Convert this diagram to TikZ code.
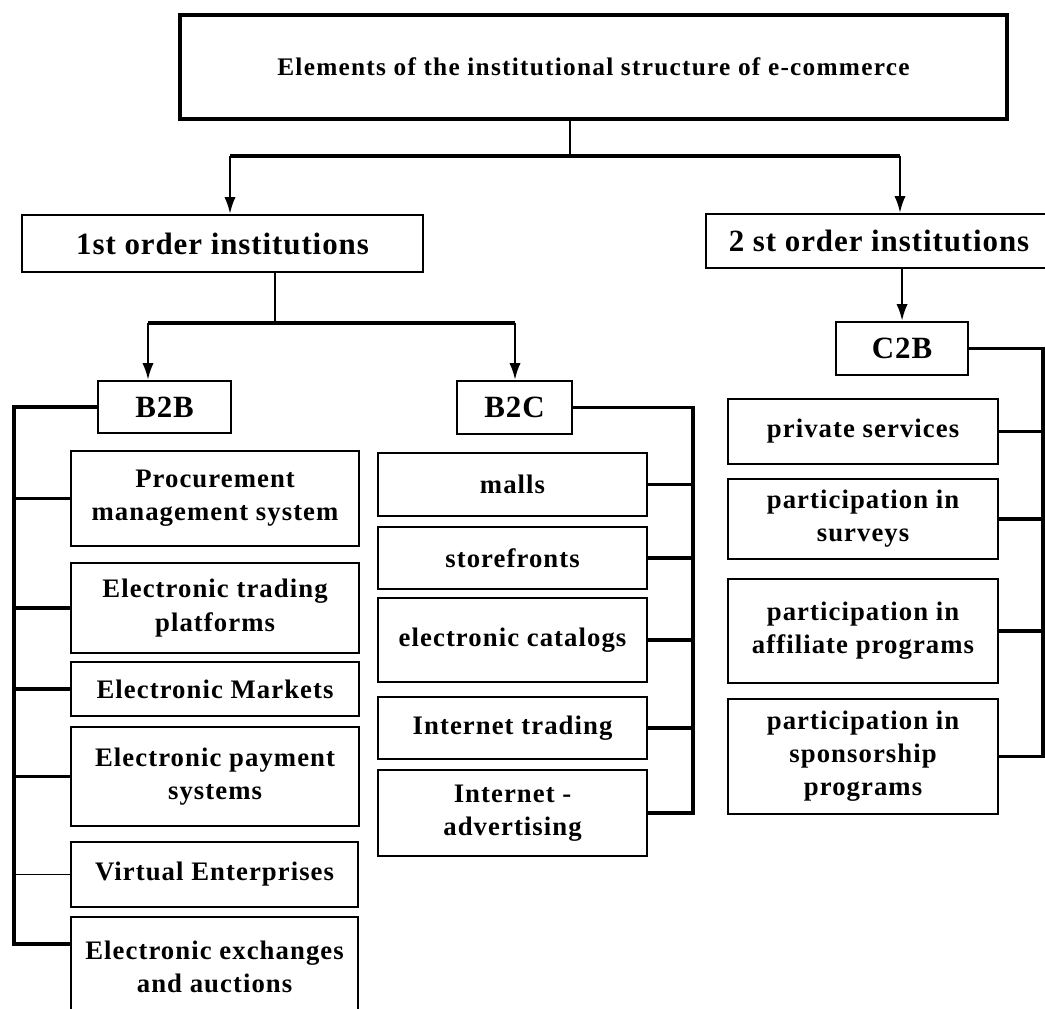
\documentclass[tikz,border=0pt]{standalone}
\usepackage{fontspec}
\setmainfont{Liberation Serif}
\newfontfamily\kidfont[LetterSpace=4]{Liberation Serif}
\newfontfamily\headfont[LetterSpace=3]{Liberation Serif}
\newfontfamily\titlefont[LetterSpace=5]{Liberation Serif}
\usetikzlibrary{arrows.meta}
\tikzset{
  box/.style={draw, line width=1.5pt, inner sep=0pt, anchor=north west, align=center,
    font=\kidfont\fontsize{19}{23.5}\selectfont\bfseries},
  head/.style={box, font=\headfont\fontsize{22}{26}\selectfont\bfseries},
  sz/.style 2 args={minimum width=#1*0.025cm, minimum height=#2*0.025cm},
  link/.style={line width=2.4pt},
  arr/.style={line width=1.8pt, -{Latex[length=12pt,width=8pt]}},
}
\begin{document}
\begin{tikzpicture}[x=0.025cm, y=-0.025cm]
  \useasboundingbox (0,0) rectangle (1045,1008);

  % levels
  \node[box, line width=2.8pt, sz={827}{104}, font=\titlefont\fontsize{18}{21}\selectfont\bfseries] (top) at (178,13)
    {Elements of the institutional structure of e-commerce};
  \node[head, sz={401}{57}] (ord1) at (21,214) {1st order institutions};
  \node[head, sz={346}{54}] (ord2) at (705,213) {2 st order institutions};
  \node[head, sz={133}{52}] (b2b) at (97,380) {B2B};
  \node[head, sz={115}{53}] (b2c) at (456,380) {B2C};
  \node[head, sz={132}{53}] (c2b) at (835,321) {C2B};

  % B2B
  \node[box, sz={288}{95}] (p1) at (70,450) {Procurement\\management system};
  \node[box, sz={288}{90}] (p2) at (70,562) {Electronic trading\\platforms};
  \node[box, sz={288}{54}] (p3) at (70,661) {Electronic Markets};
  \node[box, sz={288}{99}] (p4) at (70,726) {Electronic payment\\systems};
  \node[box, sz={287}{65}] (p5) at (70,841) {Virtual Enterprises};
  \node[box, sz={287}{100}] (p6) at (70,916) {Electronic exchanges\\and auctions};

  % B2C
  \node[box, sz={269}{63}] (c1) at (377,452) {malls};
  \node[box, sz={269}{62}] (c2) at (377,526) {storefronts};
  \node[box, sz={269}{84}] (c3) at (377,597) {electronic catalogs};
  \node[box, sz={269}{62}] (c4) at (377,696) {Internet trading};
  \node[box, sz={269}{86}] (c5) at (377,769) {Internet -\\advertising};

  % C2B
  \node[box, sz={270}{65}] (s1) at (727,398) {private services};
  \node[box, sz={270}{80}] (s2) at (727,478) {participation in\\surveys};
  \node[box, sz={270}{104}] (s3) at (727,578) {participation in\\affiliate programs};
  \node[box, sz={270}{115}] (s4) at (727,698) {participation in\\sponsorship\\programs};

  % arrows
  \coordinate (j1) at (570,156);
  \coordinate (j2) at (275,323);
  \draw[line width=1.8pt] (j1 |- top.south) -- (j1);
  \draw[link] (230,156) -- (900,156);
  \draw[arr] (230,156) -- (230,0 |- ord1.north);
  \draw[arr] (900,156) -- (900,0 |- ord2.north);
  \draw[line width=1.8pt] (j2 |- ord1.south) -- (j2);
  \draw[link] (148,323) -- (515,323);
  \draw[arr] (148,323) -- (148,0 |- b2b.north);
  \draw[arr] (515,323) -- (515,0 |- b2c.north);
  \draw[arr] (c2b.north |- ord2.south) -- (c2b.north);

  % brackets
  \coordinate (lb) at (14,0);
  \coordinate (rb) at (693,0);
  \coordinate (cb) at (1043,0);
  \coordinate (t6) at ([yshift=0.575cm]p6.west);
  \draw[link] (b2b.west) -| (lb |- t6) -- (t6);
  \foreach \n in {p1,p2,p3,p4}
    \draw[link] (\n.west) -- (lb |- \n.west);
  \draw[line width=0.9pt] (p5.west) -- (lb |- p5.west);
  \draw[link] (b2c.east) -| (rb |- c5.east) -- (c5.east);
  \foreach \n in {c1,c2,c3,c4}
    \draw[link] (\n.east) -- (rb |- \n.east);
  \draw[link] (c2b.east) -| (cb |- s4.east) -- (s4.east);
  \foreach \n in {s1,s2,s3}
    \draw[link] (\n.east) -- (cb |- \n.east);
\end{tikzpicture}
\end{document}
